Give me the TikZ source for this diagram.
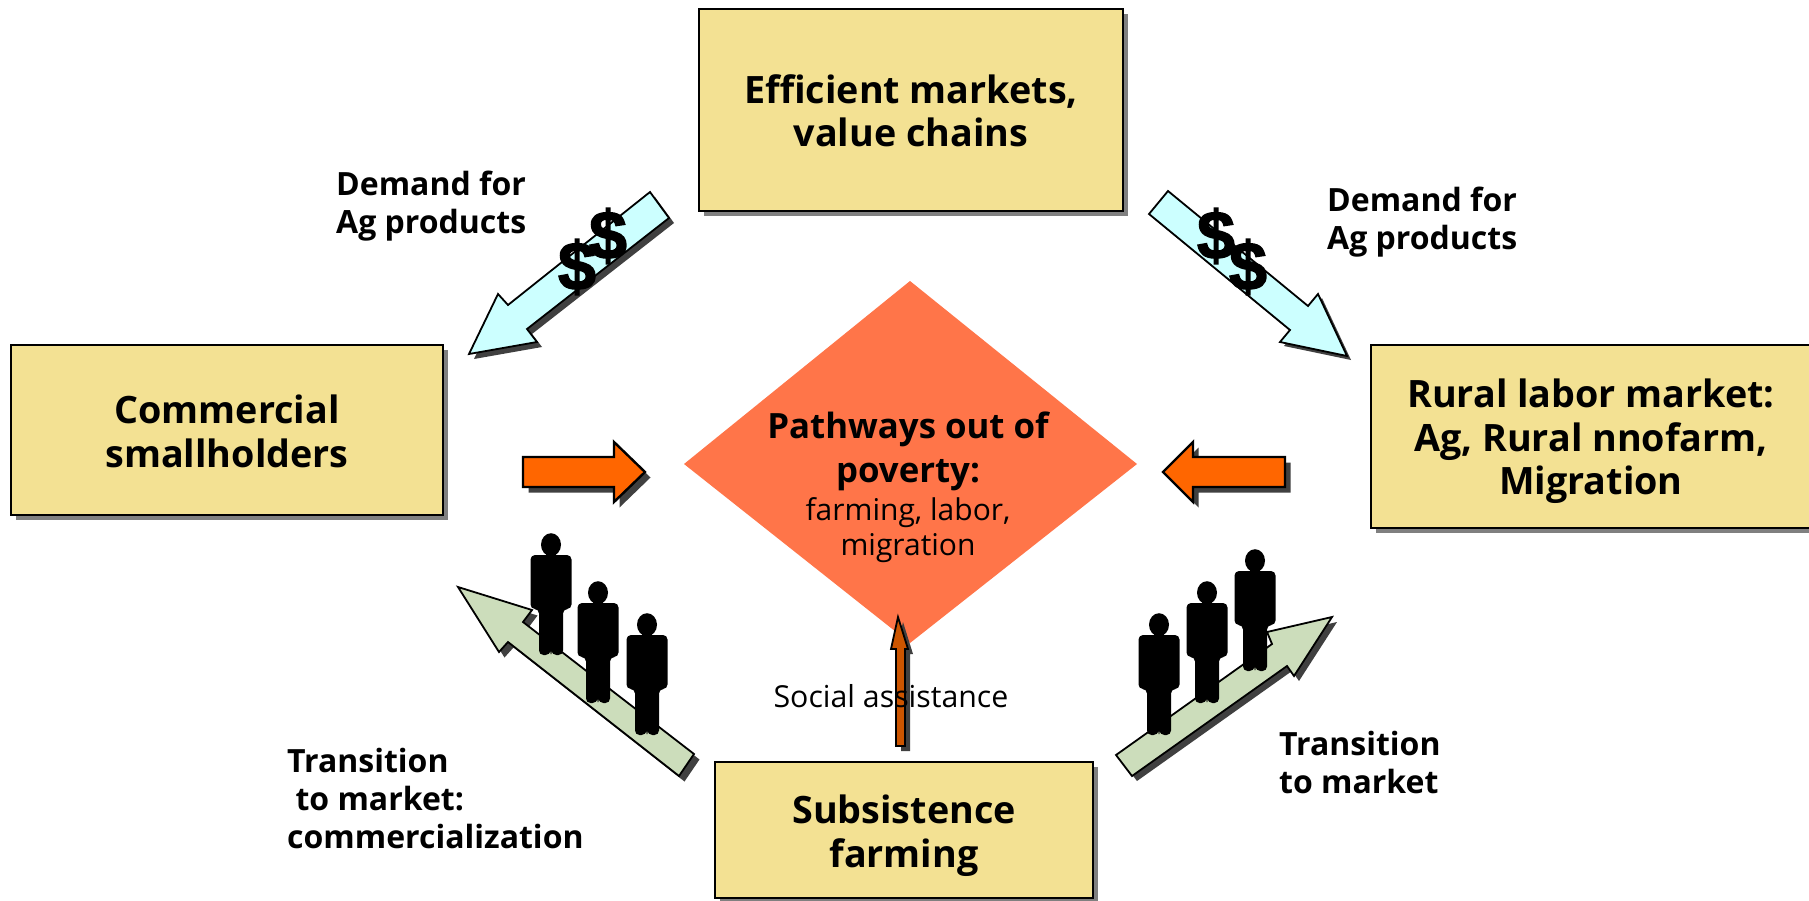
\documentclass[tikz,border=0pt]{standalone}
\usepackage{fontspec}
\setmainfont{Open Sans}
\newfontfamily\dollarfont[BoldFeatures={FakeBold=2.2}]{Liberation Sans}
\usetikzlibrary{shadows}
\definecolor{boxfill}{HTML}{F3E193}
\definecolor{diamondfill}{HTML}{FF7549}
\definecolor{orangefill}{HTML}{FF6600}
\definecolor{darkorange}{HTML}{CC5500}
\definecolor{bluefill}{HTML}{CCFFFF}
\definecolor{greenfill}{HTML}{CCDDBB}
\definecolor{shadowdark}{HTML}{404040}
\definecolor{shadowgrey}{HTML}{808080}
\newcommand{\blockarrow}[3]{%
  \fill[shadowdark,shift={(#2,#2)}] #3;
  \draw[#1] #3;
}
\tikzset{
  x=1pt,y=-1pt,
  yellowbox/.style={rectangle,draw=black,line width=1.8pt,fill=boxfill,inner sep=0pt,align=center,
    font=\fontsize{37.7}{43.5}\selectfont\bfseries,text depth=0pt,
    copy shadow={shadow xshift=5pt,shadow yshift=-5pt,fill=shadowgrey,draw=none}},
  labeltext/.style={inner sep=0pt,align=left,anchor=base west,font=\fontsize{32}{38}\selectfont\bfseries},
  bluearrow/.style={draw=black,line width=1.8pt,fill=bluefill,line join=miter},
  greenarrow/.style={draw=black,line width=1.8pt,fill=greenfill,line join=miter},
  orangearrow/.style={draw=black,line width=2.4pt,fill=orangefill,line join=miter},
  uparrow/.style={draw=black,line width=1.8pt,fill=darkorange,line join=miter},
  dollar/.style={inner sep=0pt,font=\dollarfont\bfseries\fontsize{68}{68}\selectfont},
  person/.pic={
    \fill[black] (0,10.7) ellipse[x radius=10,y radius=11.5];
    \fill[black] (-5,16) rectangle (5,26);
    \fill[black,rounded corners=4.5pt] (-20.5,21) -- (20.5,21) -- (20.5,75) -- (12,75) -- (12,121) -- (1,121) -- (0,116) -- (-1,121) -- (-12,121) -- (-12,75) -- (-20.5,75) -- cycle;
  }
}
\begin{document}
\begin{tikzpicture}
\path[use as bounding box] (0,0) rectangle (1809,900);
\fill[white] (0,0) rectangle (1809,900);
\clip (0,0) rectangle (1809,900);

% diamond
\fill[diamondfill] (910,281) -- (1137,464) -- (910,643) -- (684,464) -- cycle;

% boxes
\node[yellowbox,text height=73pt,minimum width=424pt,minimum height=202pt] (markets) at (911,110) {Efficient markets,\\value chains};
\node[yellowbox,text height=74pt,minimum width=432pt,minimum height=170pt] (small) at (227,430) {Commercial\\smallholders};
\node[yellowbox,text height=116pt,minimum width=440pt,minimum height=183pt] (labor) at (1591,436.5) {Rural labor market:\\Ag, Rural nnofarm,\\Migration};
\node[yellowbox,text height=74pt,minimum width=378pt,minimum height=136pt] (subsist) at (904,830) {Subsistence\\farming};

% blue arrows
\blockarrow{bluearrow}{5}{(650,192) -- (669,218) -- (527,329) -- (537,342) -- (469,354) -- (498,294) -- (508,305) -- cycle}
\blockarrow{bluearrow}{4}{(1168,191) -- (1149,214) -- (1290,330) -- (1280,342) -- (1347,356) -- (1318,294) -- (1308,306) -- cycle}

% orange arrows
\blockarrow{orangearrow}{5.5}{(523,457) -- (614,457) -- (614,442) -- (645,472) -- (614,502) -- (614,487) -- (523,487) -- cycle}
\blockarrow{orangearrow}{5.5}{(1285,457) -- (1193,457) -- (1193,442) -- (1163,472) -- (1193,502) -- (1193,487) -- (1285,487) -- cycle}

% social assistance arrow
\blockarrow{uparrow}{5}{(898,617) -- (908,649) -- (905,649) -- (905,746) -- (896,746) -- (896,649) -- (891,649) -- cycle}

% green arrows
\blockarrow{greenarrow}{5.5}{(458,587) -- (532,610) -- (523,622) -- (694,754) -- (679,776) -- (508,642) -- (499,652) -- cycle}
\blockarrow{greenarrow}{5}{(1116,755) -- (1132,776) -- (1287,666) -- (1294,676) -- (1332,617) -- (1267,632) -- (1272,644) -- cycle}

% people
\pic at (551,534) {person};
\pic at (598,582) {person};
\pic at (647,614) {person};
\pic at (1159,614) {person};
\pic at (1207,582) {person};
\pic at (1255,550) {person};

% dollars
\node[dollar] (d1) at (577,267) {\$};
\node[dollar] (d2) at (608,236) {\$};
\node[dollar] (d3) at (1216,236) {\$};
\node[dollar] (d4) at (1248,267) {\$};

% centre text
\node[inner sep=0pt,align=center,anchor=base,font=\fontsize{34.8}{44}\selectfont\bfseries] (path1) at (908,482) {Pathways out of\\poverty:};
\node[inner sep=0pt,align=center,anchor=base,font=\fontsize{30}{35}\selectfont] (path2) at (908,555) {farming, labor,\\migration};

% labels
\node[labeltext] (dl) at (336,233) {Demand for\\Ag products};
\node[labeltext] (dr) at (1327,249) {Demand for\\Ag products};
\node[labeltext] (tl) at (287,848) {Transition\\\ to market:\\commercialization};
\node[labeltext] (tr) at (1279,793) {Transition\\to market};
\node[inner sep=0pt,anchor=base,font=\fontsize{30.3}{36}\selectfont] (social) at (891,707) {Social assistance};
\end{tikzpicture}
\end{document}
